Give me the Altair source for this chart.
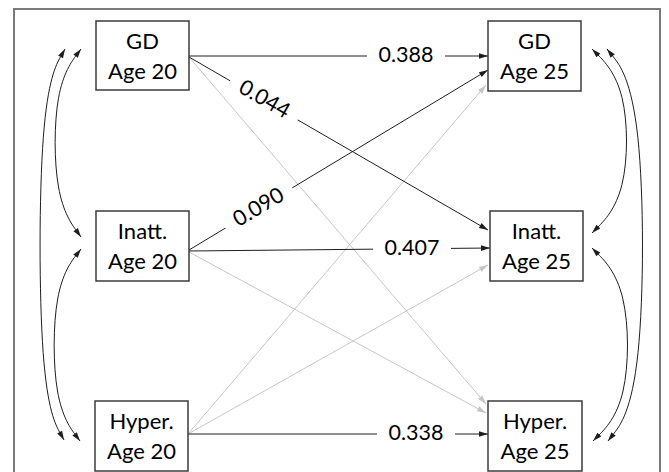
import math
import altair as alt
import pandas as pd

W, H = 653, 464
OX, OY = 8, 8
FONT = "Lato"

# ---- boxes (nodes) ----
node_line1 = ["GD", "Inatt.", "Hyper.", "GD", "Inatt.", "Hyper."]
node_line2 = ["Age 20", "Age 20", "Age 20", "Age 25", "Age 25", "Age 25"]
node_x0 = [96, 96, 95, 488, 490, 488]
node_x1 = [189, 189, 188, 581, 583, 582]
node_y0 = [21, 211, 401, 21, 211, 401]
node_y1 = [90, 281, 471, 91, 281, 471]

# ---- straight paths (regressions) ----
path_x0 = [189, 189, 189, 189, 188, 189, 189, 188, 188]
path_y0 = [56, 57, 250, 251, 434, 57, 252, 434, 434]
path_x1 = [488, 488, 488, 490, 488, 486, 486, 486, 488]
path_y1 = [56, 230, 70, 248, 434, 404, 413, 85, 265]
path_sig = [True, True, True, True, True, False, False, False, False]

# ---- path coefficient labels ----
coef_text = ["0.388", "0.044", "0.090", "0.407", "0.338"]
coef_x = [406, 264, 259, 412, 416]
coef_y = [56, 100, 208, 249, 434]
coef_angle = [0, 30, 329, 0, 0]

# ---- curved double-headed arrows (control points) ----
curve_px = [[65, 39, 39, 64], [81, 54, 54, 81], [81, 53, 53, 80],
            [607, 644, 644, 608], [592, 628, 628, 592], [592, 629, 629, 593]]
curve_py = [[49, 95, 395, 440], [49, 85, 200, 237], [249, 285, 405, 441],
            [49, 95, 395, 441], [49, 85, 197, 233], [248, 285, 405, 441]]

BLACK = "#1e1e1e"
GRAY = "#c6c6c6"

xs = alt.Scale(domain=[OX, OX + W], nice=False, zero=False)
ys = alt.Scale(domain=[OY, OY + H], nice=False, zero=False, reverse=True)


def X(f, **kw):
    return alt.X(f, type="quantitative", scale=xs, axis=None, **kw)


def Y(f, **kw):
    return alt.Y(f, type="quantitative", scale=ys, axis=None, **kw)


def ang(dx, dy):
    return math.degrees(math.atan2(dy, dx)) % 360


# tables
nodes = pd.DataFrame({"l1": node_line1, "l2": node_line2, "x0": node_x0,
                      "x1": node_x1, "y0": node_y0, "y1": node_y1})
nodes["cx"] = (nodes.x0 + nodes.x1) / 2
nodes["cy"] = (nodes.y0 + nodes.y1) / 2
nodes["ty1"] = nodes.cy - 14
nodes["ty2"] = nodes.cy + 16

paths = pd.DataFrame({"x0": path_x0, "y0": path_y0, "x1": path_x1,
                      "y1": path_y1, "sig": path_sig})
paths["col"] = [BLACK if s else GRAY for s in paths.sig]

HEAD = 9.0
heads = []
for r in paths.itertuples():
    dx, dy = r.x1 - r.x0, r.y1 - r.y0
    L = math.hypot(dx, dy)
    heads.append({"x": r.x1 - dx / L * HEAD / 2, "y": r.y1 - dy / L * HEAD / 2,
                  "a": ang(dx, dy), "col": r.col})
for px, py in zip(curve_px, curve_py):
    for (tx, ty, fx, fy) in [(px[0], py[0], px[1], py[1]), (px[3], py[3], px[2], py[2])]:
        dx, dy = tx - fx, ty - fy
        L = math.hypot(dx, dy)
        heads.append({"x": tx - dx / L * HEAD / 2, "y": ty - dy / L * HEAD / 2,
                      "a": ang(dx, dy), "col": BLACK})
heads = pd.DataFrame(heads)

curves = pd.DataFrame([{"c": i, "o": j, "x": px[j], "y": py[j]}
                       for i, (px, py) in enumerate(zip(curve_px, curve_py))
                       for j in range(4)])

coefs = pd.DataFrame({"t": coef_text, "x": coef_x, "y": coef_y, "a": coef_angle})

frame = pd.DataFrame({"x0": [14], "x1": [660], "y0": [9], "y1": [490]})

border = alt.Chart(frame).mark_rect(fill="white", stroke="#7a7a7a", strokeWidth=2).encode(
    x=X("x0"), x2="x1", y=Y("y0"), y2="y1")

rules = alt.Chart(paths).mark_rule(strokeWidth=1).encode(
    x=X("x0"), y=Y("y0"), x2="x1", y2="y1",
    color=alt.Color("col:N", scale=None),
    order=alt.Order("sig:O"))

curve_lines = alt.Chart(curves).mark_line(interpolate="basis", strokeWidth=1, color=BLACK).encode(
    x=X("x"), y=Y("y"), detail="c:N", order="o:Q")

gaps = alt.Chart(coefs).mark_point(
    shape="M-1,-0.26L1,-0.26L1,0.26L-1,0.26Z", filled=True, fill="white",
    opacity=1, strokeWidth=0, size=78 * 78).encode(
    x=X("x"), y=Y("y"), angle=alt.Angle("a:Q", scale=None))

coef_labels = alt.Chart(coefs).mark_text(font=FONT, fontSize=21.5, color="black",
                                          baseline="middle", align="center").encode(
    x=X("x"), y=Y("y"), text="t:N", angle=alt.Angle("a:Q", scale=None))

arrowheads = alt.Chart(heads).mark_point(
    shape="M1,0L-1,-0.62L-1,0.62Z", filled=True, opacity=1, strokeWidth=0,
    size=HEAD * HEAD).encode(
    x=X("x"), y=Y("y"), angle=alt.Angle("a:Q", scale=None),
    color=alt.Color("col:N", scale=None))

boxes = alt.Chart(nodes).mark_rect(fill="white", stroke="#3c3c3c", strokeWidth=1.5).encode(
    x=X("x0"), x2="x1", y=Y("y0"), y2="y1")

t1 = alt.Chart(nodes).mark_text(font=FONT, fontSize=22, color="black", baseline="middle").encode(
    x=X("cx"), y=Y("ty1"), text="l1:N")
t2 = alt.Chart(nodes).mark_text(font=FONT, fontSize=22, color="black", baseline="middle").encode(
    x=X("cx"), y=Y("ty2"), text="l2:N")

chart = alt.layer(border, rules, curve_lines, gaps, coef_labels, arrowheads, boxes, t1, t2).properties(
    width=W, height=H, padding=0, autosize=alt.AutoSizeParams(type="none")
).configure_view(stroke=None)

chart.save("out.html", embed_options={"renderer": "svg", "actions": False})
